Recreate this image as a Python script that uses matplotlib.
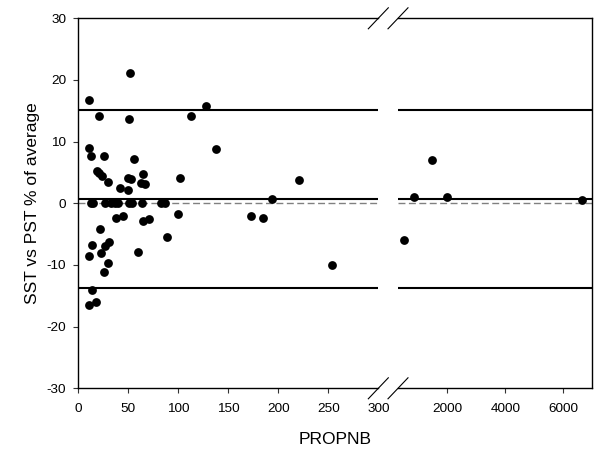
import matplotlib
matplotlib.use("Agg")
import matplotlib.pyplot as plt
import numpy as np

plt.rcParams["font.family"] = ["Liberation Sans", "DejaVu Sans"]
plt.rcParams["axes.unicode_minus"] = False

# PROPNB value and SST vs PST difference (% of average) per sample
propnb = [51.7, 11, 20.7, 50.7, 127.7, 112.7, 137.7, 10.7, 12.7, 26, 55.7,
          18.4, 20.7, 23.4, 30, 50, 52.5, 65, 62.7, 66.4, 41.4, 50, 101.5,
          220.7, 193.4,
          12.5, 15, 27, 33, 37, 40, 51, 54, 64, 83, 87,
          37.7, 45, 65, 71, 100, 172.7, 185, 21.7, 13.7, 10.7, 22.7, 26.7,
          30.7, 30, 25.7, 59.7, 88.4, 253.7, 13.4, 11, 17.7,
          1464, 853, 2000, 6630, 507]
diff_pct = [21.1, 16.8, 14.1, 13.7, 15.7, 14.2, 8.8, 8.9, 7.6, 7.6, 7.2,
            5.3, 4.9, 4.5, 3.5, 4.1, 3.9, 4.75, 3.35, 3.1, 2.5, 2.15, 4.05,
            3.8, 0.7,
            0.1, 0.1, 0.1, 0.1, 0.1, 0.1, 0.1, 0.1, 0.1, 0.1, 0.1,
            -2.4, -2.0, -2.85, -2.6, -1.8, -2.1, -2.45, -4.2, -6.7, -8.5, -8.1, -7.0,
            -6.3, -9.6, -11.1, -7.9, -5.4, -10.0, -14.1, -16.5, -16.05,
            7.0, 1.1, 1.1, 0.6, -5.9]

mean_diff = 0.7
upper_loa = 15.1
lower_loa = -13.7

left_ticks = [0, 50, 100, 150, 200, 250, 300]
right_ticks = [2000, 4000, 6000]
y_ticks = [-30, -20, -10, 0, 10, 20, 30]

x = np.array(propnb)
y = np.array(diff_pct)

W, H = 604, 453
fig = plt.figure(figsize=(W / 100, H / 100), dpi=100)
bot, top = 388.3, 18.3
ax1 = fig.add_axes([78.3 / W, 1 - bot / H, 300 / W, (bot - top) / H])
ax2 = fig.add_axes([398 / W, 1 - bot / H, 194.3 / W, (bot - top) / H], sharey=ax1)

for ax, lim in ((ax1, (0, 300)), (ax2, (300, 7000))):
    m = (x >= lim[0]) & (x <= lim[1])
    ax.scatter(x[m], y[m], s=40, color="black", zorder=3, linewidths=0)
    for yv in (upper_loa, mean_diff, lower_loa):
        ax.axhline(yv, color="black", lw=1.5, zorder=2)
    ax.axhline(0, color="#808080", lw=1.0, dashes=(5, 2.5), zorder=1)
    ax.set_xlim(*lim)
    ax.set_ylim(-30, 30)
    ax.tick_params(direction="out", length=3.3, width=0.8, labelsize=9.7, color="#333333")
    ax.tick_params(axis="x", pad=7)
    ax.tick_params(axis="y", pad=5.5)
    for s in ax.spines.values():
        s.set_linewidth(1.0)

ax1.spines["right"].set_visible(False)
ax2.spines["left"].set_visible(False)
ax2.tick_params(axis="y", left=False, labelleft=False)
ax1.set_xticks(left_ticks)
ax2.set_xticks(right_ticks)
ax1.set_yticks(y_ticks)
ax1.xaxis.get_major_ticks()[-1].tick1line.set_visible(False)

# break marks
kw = dict(color="black", lw=0.8, clip_on=False)
dx1, dy = 10 / 300, 10.5 / (bot - top)
for yy in (0, 1):
    ax1.plot([1 - dx1, 1 + dx1], [yy - dy, yy + dy], transform=ax1.transAxes, **kw)
dx2 = 10 / 194.3
for yy in (0, 1):
    ax2.plot([-dx2, dx2], [yy - dy, yy + dy], transform=ax2.transAxes, **kw)

fig.text(335 / W, 1 - 440 / H, "PROPNB", ha="center", va="center", fontsize=12.5)
fig.text(33 / W, 1 - 203 / H, "SST vs PST % of average", ha="center", va="center",
         rotation=90, fontsize=12.5)

fig.savefig("out.png", dpi=100)
